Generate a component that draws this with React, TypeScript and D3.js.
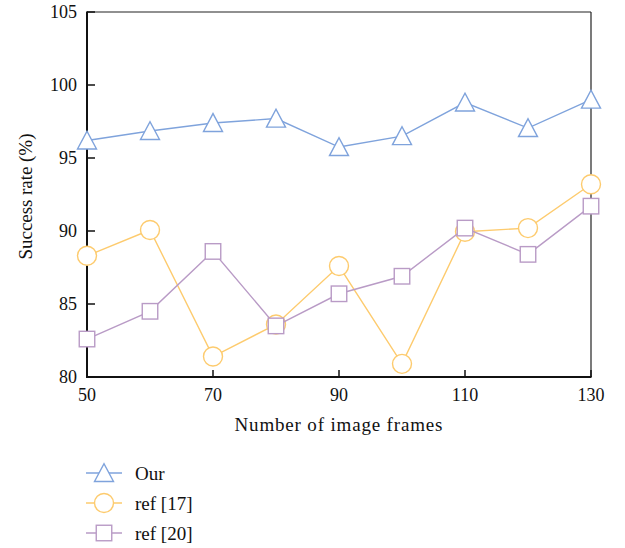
import React from "react";
import * as d3 from "d3";

const frames = [50, 60, 70, 80, 90, 100, 110, 120, 130];
const ourValues = [96.2, 96.85, 97.4, 97.7, 95.75, 96.5, 98.8, 97.05, 99.0];
const ref17Values = [88.3, 90.07, 81.4, 83.6, 87.6, 80.9, 89.95, 90.2, 93.2];
const ref20Values = [82.6, 84.5, 88.6, 83.5, 85.7, 86.9, 90.2, 88.4, 91.7];
const xTicks = [50, 70, 90, 110, 130];
const yTicks = [80, 85, 90, 95, 100, 105];
const seriesNames = ["Our", "ref [17]", "ref [20]"];

const W = 625, H = 548;
const left = 87, right = 591, top = 12, bottom = 377;
const FONT = "'Liberation Serif', 'Times New Roman', serif";

const colors = ["#7FA3DC", "#FDCB6E", "#B99BC6"];
const shapes = ["triangle", "circle", "square"];

function Marker({ shape, x, y, color }: { shape: string; x: number; y: number; color: string }) {
  if (shape === "triangle") {
    const w = 19, h = 17;
    const pts = `${x - w / 2},${y + h * 0.5} ${x + w / 2},${y + h * 0.5} ${x},${y - h * 0.55}`;
    return <polygon points={pts} fill="white" stroke={color} strokeWidth={1.4} />;
  }
  if (shape === "circle") {
    return <circle cx={x} cy={y} r={9.5} fill="white" stroke={color} strokeWidth={1.4} />;
  }
  const s = 15.5;
  return <rect x={x - s / 2} y={y - s / 2} width={s} height={s} fill="white" stroke={color} strokeWidth={1.4} />;
}

export default function App() {
  const x = d3.scaleLinear().domain([50, 130]).range([left, right]);
  const y = d3.scaleLinear().domain([80, 105]).range([bottom, top]);
  const line = d3.line<[number, number]>().x(d => x(d[0])).y(d => y(d[1]));
  const all = [ourValues, ref17Values, ref20Values];
  const legendY = [473, 503, 533];

  return (
    <svg width={W} height={H} style={{ position: "absolute", left: 0, top: 0 }}>
      <rect x={0} y={0} width={W} height={H} fill="white" />
      <line x1={left} y1={top} x2={right} y2={top} stroke="#222" strokeWidth={1.2} />
      <line x1={right} y1={top} x2={right} y2={bottom} stroke="#222" strokeWidth={1.2} />
      <line x1={left} y1={top - 0.5} x2={left} y2={bottom + 1} stroke="#111" strokeWidth={2} />
      <line x1={left - 1} y1={bottom} x2={right + 0.5} y2={bottom} stroke="#111" strokeWidth={2} />
      {yTicks.map(t => (
        <g key={"y" + t}>
          <line x1={left} x2={left + 8} y1={y(t)} y2={y(t)} stroke="#111" strokeWidth={1.5} />
          <text x={left - 10} y={y(t)} dy="0.35em" textAnchor="end" fontFamily={FONT} fontSize={18} fill="#111">{t}</text>
        </g>
      ))}
      {xTicks.map(t => (
        <g key={"x" + t}>
          <line x1={x(t)} x2={x(t)} y1={bottom} y2={bottom - 7} stroke="#111" strokeWidth={1.5} />
          <text x={x(t)} y={bottom + 24} textAnchor="middle" fontFamily={FONT} fontSize={18} fill="#111">{t}</text>
        </g>
      ))}
      <text x={(left + right) / 2 - 0.5} y={431} textAnchor="middle" fontFamily={FONT} fontSize={19}
        textLength={208} lengthAdjust="spacing" fill="#111">Number of image frames</text>
      <text transform={`translate(32,${(top + bottom) / 2 + 2}) rotate(-90)`} textAnchor="middle" fontFamily={FONT}
        fontSize={19} textLength={126} lengthAdjust="spacing" fill="#111">Success rate (%)</text>
      {all.map((vals, i) => {
        const pts = frames.map((f, j) => [f, vals[j]] as [number, number]);
        return (
          <g key={"s" + i}>
            <path d={line(pts) || ""} fill="none" stroke={colors[i]} strokeWidth={1.4} />
            {pts.map((p, j) => (
              <Marker key={j} shape={shapes[i]} x={x(p[0])} y={y(p[1])} color={colors[i]} />
            ))}
          </g>
        );
      })}
      {seriesNames.map((n, i) => (
        <g key={"l" + i}>
          <line x1={86} x2={122} y1={legendY[i]} y2={legendY[i]} stroke={colors[i]} strokeWidth={1.4} />
          <Marker shape={shapes[i]} x={104} y={legendY[i]} color={colors[i]} />
          <text x={135} y={legendY[i] + 7} fontFamily={FONT} fontSize={19} fill="#111">{n}</text>
        </g>
      ))}
    </svg>
  );
}
